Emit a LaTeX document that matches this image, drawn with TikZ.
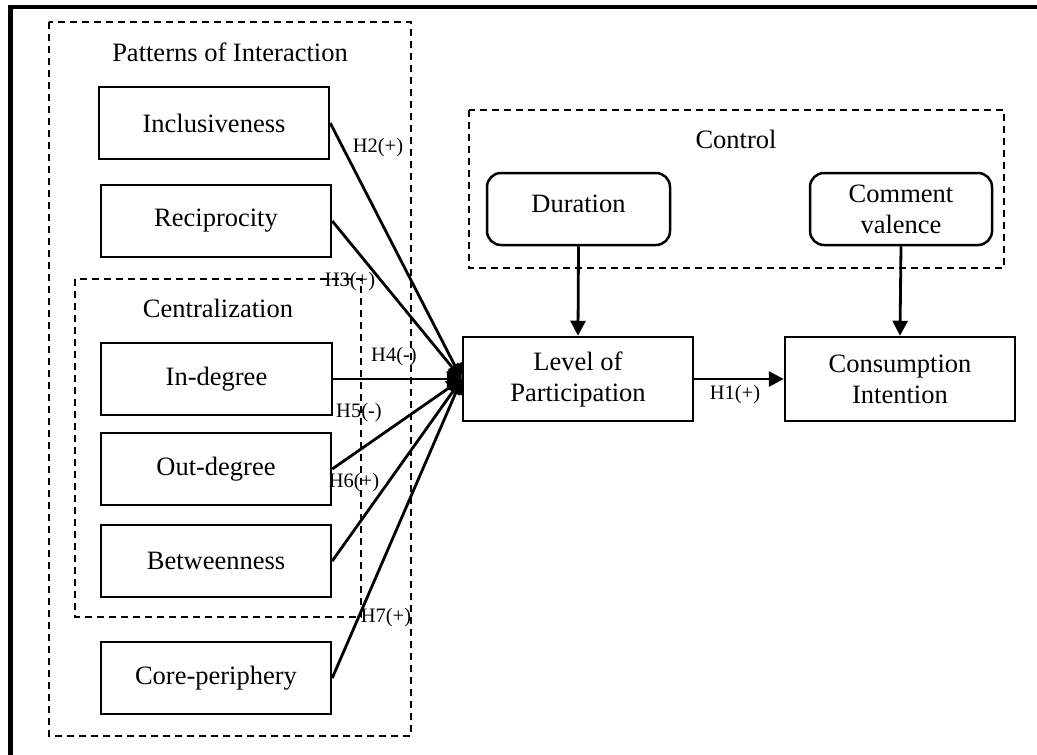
\documentclass[tikz,border=0pt]{standalone}
\usepackage{fontspec}
\setmainfont{Liberation Serif}
\usetikzlibrary{arrows.meta}
\begin{document}
\begin{tikzpicture}[x=1pt,y=-1pt,
 box/.style={draw,line width=2.5pt,inner sep=0pt,font=\fontsize{26.5}{31}\selectfont,align=center},
 rbox/.style={box,rounded corners=14pt},
 group/.style={draw,line width=2.2pt,dash pattern=on 7pt off 5pt},
 grouptitle/.style={font=\fontsize{26.5}{31}\selectfont,inner sep=0pt},
 hlab/.style={font=\fontsize{20.5}{24}\selectfont,inner sep=0pt},
 link/.style={line width=2.8pt,-{Triangle[length=15pt,width=15pt]}},
]
\useasboundingbox (0,0) rectangle (1037,755);
\clip (0,0) rectangle (1037,755);
\fill[white] (0,0) rectangle (1037,755);
% outer frame
\draw[line width=4.3pt,line join=miter] (10.5,770) -- (10.5,7) -- (1050,7);

% groups
\draw[group] (49,22) rectangle (411,736);
\draw[group] (75,279) rectangle (361,617);
\draw[group] (469,110) rectangle (1004,268);
\node[grouptitle] (tpat) at (230,52) {Patterns of Interaction};
\node[grouptitle] (tcen) at (218,308) {Centralization};
\node[grouptitle] (tcon) at (736,139) {Control};

% boxes
\node[box,minimum width=230pt,minimum height=72pt] (inc) at (214,123) {Inclusiveness};
\node[box,minimum width=230pt,minimum height=72pt] (rec) at (216,221) {Reciprocity};
\node[box,minimum width=231pt,minimum height=72pt] (ind) at (216.5,379) {In-degree};
\node[box,minimum width=230pt,minimum height=72pt] (outd) at (216,469) {Out-degree};
\node[box,minimum width=230pt,minimum height=72pt] (bet) at (216,561) {Betweenness};
\node[box,minimum width=230pt,minimum height=72pt] (core) at (216,678) {Core-periphery};
\node[box,minimum width=230pt,minimum height=84pt] (lev) at (578,379) {Level of\\Participation};
\node[box,minimum width=230pt,minimum height=84pt] (cons) at (900,379) {Consumption\\Intention};
\node[rbox,minimum width=183pt,minimum height=72pt,text depth=10pt] (dur) at (578.5,209) {Duration};
\node[rbox,minimum width=182pt,minimum height=72pt] (com) at (901,209) {Comment\\valence};

% links
\draw[link] (inc.east) -- (lev.west);
\draw[link] (rec.east) -- (lev.west);
\draw[link] (ind.east) -- (lev.west);
\draw[link] (outd.east) -- (lev.west);
\draw[link] (bet.east) -- (lev.west);
\draw[link] (core.east) -- (lev.west);
\draw[link] (dur.south) -- (lev.north);
\draw[link] (com.south) -- (cons.north);
\draw[link] (lev.east) -- (cons.west);

% labels
\node[hlab] (h2) at (378,148) {H2(+)};
\node[hlab] (h3) at (350,282) {H3(+)};
\node[hlab] (h4) at (394,357) {H4(-)};
\node[hlab] (h5) at (359,413) {H5(-)};
\node[hlab] (h6) at (354,483) {H6(+)};
\node[hlab] (h7) at (386,618) {H7(+)};
\node[hlab] (h1) at (735,395) {H1(+)};
\end{tikzpicture}
\end{document}
